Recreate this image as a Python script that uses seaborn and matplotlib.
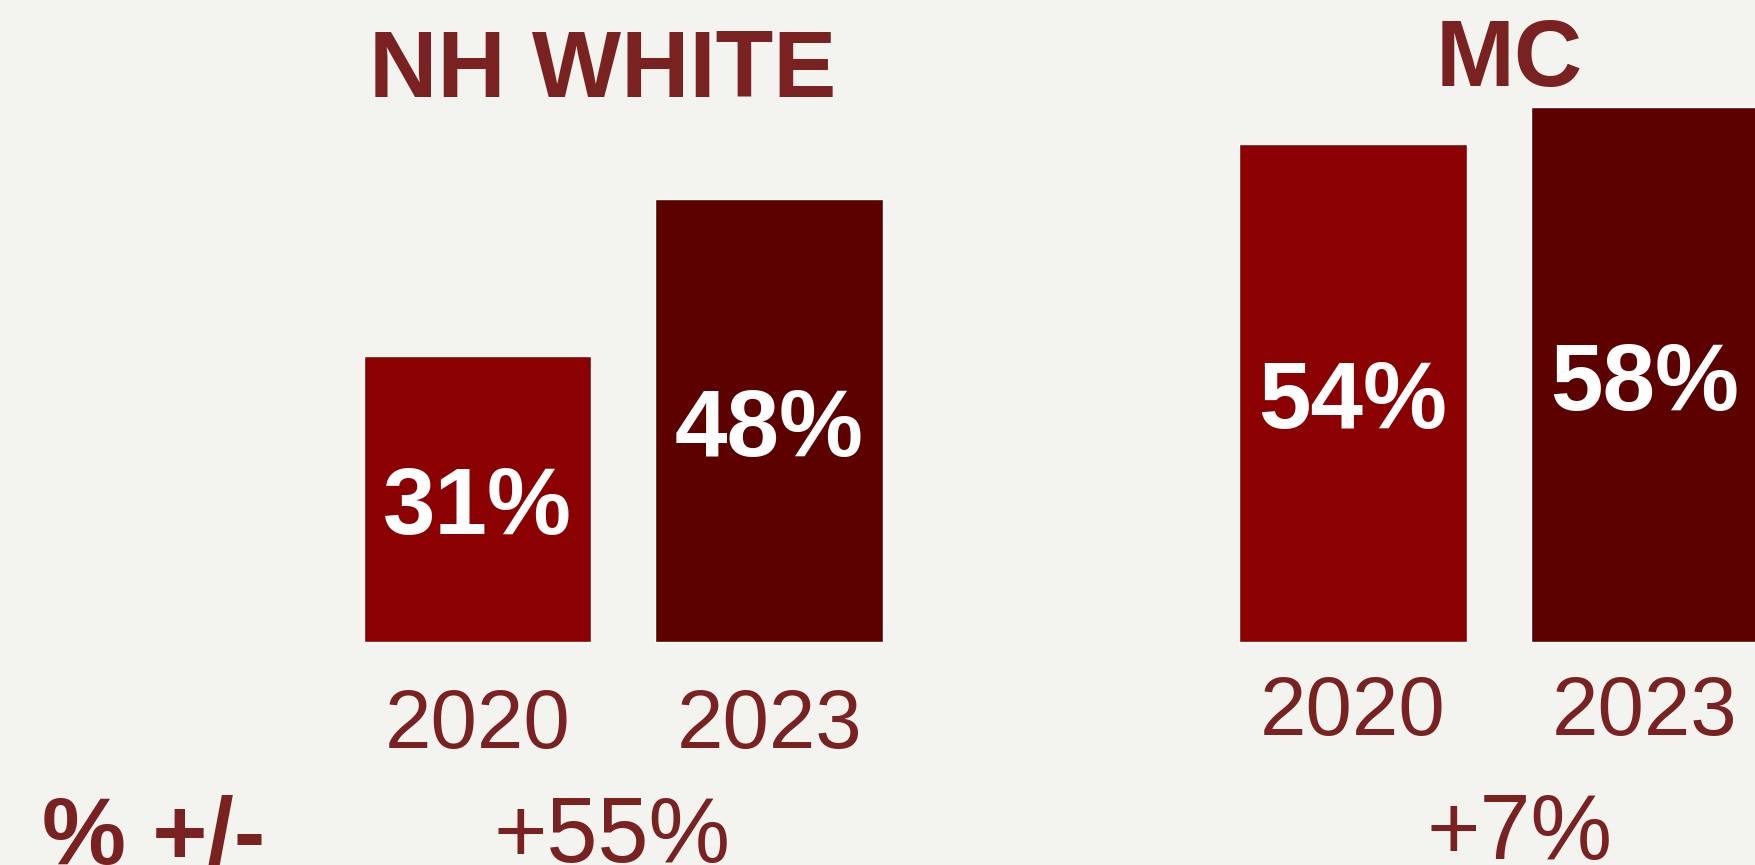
import matplotlib
matplotlib.use("Agg")
import matplotlib.pyplot as plt
import seaborn as sns
import pandas as pd

# Data
groups = ["NH WHITE", "MC"]
years = ["2020", "2023"]
nh_white_share = [31, 48]
mc_share = [54, 58]

# Styling
BG = "#f3f3ef"
TEXT = "#7a2121"
BAR_COLORS = {"2020": "#8b0000", "2023": "#5c0000"}
FONT = "Liberation Sans"

sns.set_theme(style="white")
plt.rcParams["font.family"] = [FONT, "DejaVu Sans"]

rows = []
for g, vals in zip(groups, [nh_white_share, mc_share]):
    for y, v in zip(years, vals):
        rows.append({"key": f"{g} {y}", "group": g, "year": y, "share": v})
df = pd.DataFrame(rows)

# Category order with an empty slot between the two groups
order = [f"{groups[0]} {y}" for y in years] + [""] + [f"{groups[1]} {y}" for y in years]

fig = plt.figure(figsize=(17.56, 8.65), dpi=100, facecolor=BG)
ax = fig.add_axes([0, 0, 1, 1])
ax.set_facecolor(BG)

sns.barplot(data=df, x="key", y="share", hue="year", order=order,
            palette=BAR_COLORS, dodge=False, width=0.78, saturation=1,
            legend=False, ax=ax)

ax.set_xlim(-1.636, 4.382)
ax.set_ylim(-24.08, 69.53)
ax.axis("off")

pos = {k: i for i, k in enumerate(order)}

# Layout of the annotations (data units)
title_dx = {"NH WHITE": -0.07, "MC": 0.035}
title_base = {"NH WHITE": 59.0, "MC": 60.2}
year_base = {"NH WHITE": -11.4, "MC": -10.0}
change_dx = {"NH WHITE": -0.04, "MC": 0.07}
change_base = {"NH WHITE": -23.8, "MC": -23.45}

for g, vals in zip(groups, [nh_white_share, mc_share]):
    xs = [pos[f"{g} {y}"] for y in years]
    cx = sum(xs) / len(xs)
    ax.text(cx + title_dx[g], title_base[g], g, ha="center", va="baseline",
            fontsize=68, fontweight="bold", color=TEXT)
    for x, y, v in zip(xs, years, vals):
        ax.text(x, v / 2 - 3.8, f"{v}%", ha="center", va="baseline",
                fontsize=68, fontweight="bold", color="white")
        ax.text(x, year_base[g], y, ha="center", va="baseline",
                fontsize=60, color=TEXT)
    change = round((vals[1] - vals[0]) / vals[0] * 100)
    ax.text(cx + change_dx[g], change_base[g], f"+{change}%", ha="center",
            va="baseline", fontsize=66, color=TEXT)

ax.text(-1.108, -23.95, "% +/-", ha="center", va="baseline",
        fontsize=68, fontweight="bold", color=TEXT)

fig.savefig("out.png", dpi=100, facecolor=BG)
